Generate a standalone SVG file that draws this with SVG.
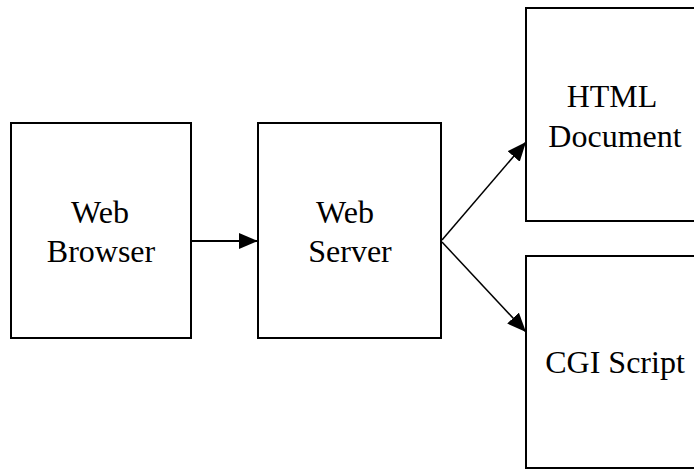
<svg xmlns="http://www.w3.org/2000/svg" width="694" height="470" viewBox="0 0 694 470">
<style>
.box{fill:#fff;stroke:#000;stroke-width:2}
.lbl{font-family:"Liberation Serif","Times New Roman",serif;font-size:32px;fill:#000;text-anchor:middle}
.conn{stroke:#000;fill:none}
</style>
<defs>
<marker id="ah" markerUnits="userSpaceOnUse" markerWidth="20" markerHeight="18" refX="19" refY="8" orient="auto">
<path d="M0,0 L19,8 L0,16 Z" fill="#000"/>
</marker>
</defs>
<rect width="694" height="470" fill="#fff"/>
<g id="connectors">
<line class="conn" x1="191" y1="241" x2="258" y2="241" stroke-width="2" marker-end="url(#ah)"/>
<line class="conn" x1="442" y1="240" x2="526" y2="142" stroke-width="1.5" marker-end="url(#ah)"/>
<line class="conn" x1="442" y1="242" x2="526" y2="332" stroke-width="1.5" marker-end="url(#ah)"/>
</g>
<g id="web-browser">
<rect class="box" x="11" y="123" width="180" height="215"/>
<text class="lbl" x="100" y="223">Web</text>
<text class="lbl" x="101" y="262">Browser</text>
</g>
<g id="web-server">
<rect class="box" x="258" y="123" width="183" height="215"/>
<text class="lbl" x="345" y="223">Web</text>
<text class="lbl" x="350" y="262">Server</text>
</g>
<g id="html-document">
<rect class="box" x="526" y="8" width="190" height="213"/>
<text class="lbl" x="612" y="107">HTML</text>
<text class="lbl" x="615" y="147">Document</text>
</g>
<g id="cgi-script">
<rect class="box" x="526" y="256" width="190" height="212"/>
<text class="lbl" x="615" y="373">CGI Script</text>
</g>
</svg>
